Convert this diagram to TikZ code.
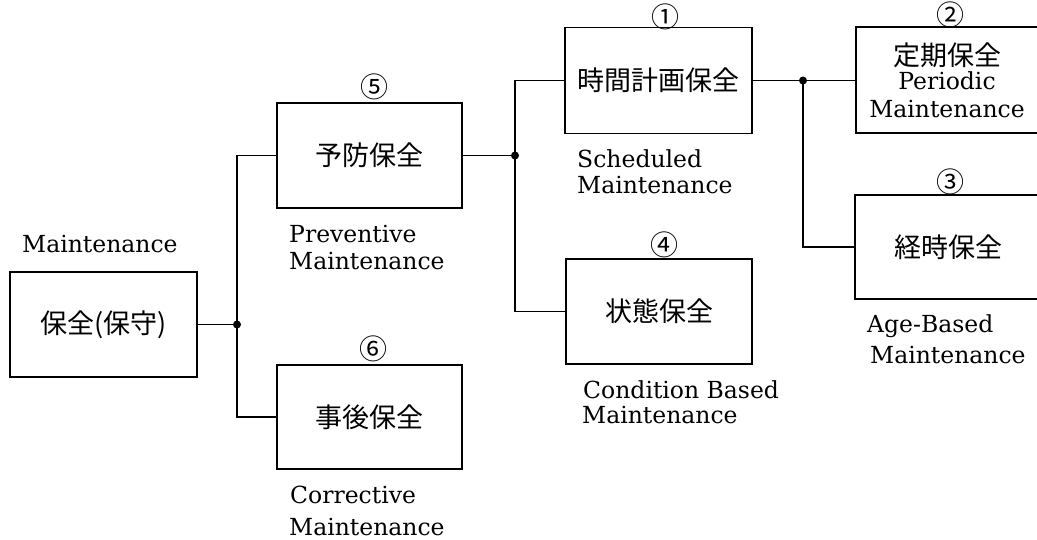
\documentclass[tikz,border=0pt]{standalone}
\usepackage{fontspec}
\newfontfamily\jp{Noto Sans CJK JP}
\newfontfamily\latn{DejaVu Serif}
\begin{document}
\begin{tikzpicture}[x=1pt,y=-1pt,
  box/.style={draw,line width=1.8pt,rectangle,inner sep=0pt,font=\jp\fontsize{27}{30}\selectfont},
  conn/.style={line width=1.4pt},
  dot/.style={circle,fill,inner sep=0pt,minimum size=8pt},
  lab/.style={anchor=base west,inner sep=0pt,font=\latn\fontsize{23.5}{28}\selectfont},
  num/.style={inner sep=0pt,font=\jp\fontsize{28}{30}\selectfont}]
\clip (0,0) rectangle (1037,540);
\fill[white] (0,0) rectangle (1037,540);
% boxes
\node[box,minimum width=187pt,minimum height=105pt] (root) at (103.5,324.5) {保全(保守)};
\node[box,minimum width=185pt,minimum height=105pt] (prev) at (369.5,155.5) {予防保全};
\node[box,minimum width=185pt,minimum height=104pt] (corr) at (369.5,417) {事後保全};
\node[box,minimum width=187pt,minimum height=106pt] (sched) at (658.5,80.5) {時間計画保全};
\node[box,minimum width=186pt,minimum height=105pt] (cond) at (659,311.5) {状態保全};
\node[box,minimum width=186pt,minimum height=106pt] (per) at (949,80) {};
\node[box,minimum width=186pt,minimum height=104pt] (age) at (948,247) {経時保全};
% text inside periodic box
\node[inner sep=0pt,font=\jp\fontsize{27}{30}\selectfont] (perjp) at (947,55) {定期保全};
\node[inner sep=0pt,anchor=base,font=\latn\fontsize{23.5}{28}\selectfont] (peren1) at (947,90) {Periodic};
\node[inner sep=0pt,anchor=base,font=\latn\fontsize{23.5}{28}\selectfont] (peren2) at (947,118) {Maintenance};
% junctions
\node[dot] (j1) at (237,324.5) {};
\node[dot] (j2) at (515,155.5) {};
\node[dot] (j3) at (803,80.5) {};
% connectors
\draw[conn] (root.east) -- (j1.center);
\draw[conn] (prev.west) -| (j1.center);
\draw[conn] (j1.center) |- (corr.west);
\draw[conn] (prev.east) -- (j2.center);
\draw[conn] (sched.west) -| (j2.center);
\draw[conn] (j2.center) |- (cond.west);
\draw[conn] (sched.east) -- (j3.center);
\draw[conn] (j3.center) -- (j3.center -| per.west);
\draw[conn] (j3.center) |- (age.west);
% circled numbers
\node[num] (n1) at (665,17) {①};
\node[num] (n2) at (950,15) {②};
\node[num] (n3) at (950,182) {③};
\node[num] (n4) at (664,245) {④};
\node[num] (n5) at (374,87) {⑤};
\node[num] (n6) at (373,349) {⑥};
% labels
\node[lab] (lroot) at (22,253) {Maintenance};
\node[lab] (lprev1) at (289,243) {Preventive};
\node[lab] (lprev2) at (289,270) {Maintenance};
\node[lab] (lsch1) at (577,168) {Scheduled};
\node[lab] (lsch2) at (577,194) {Maintenance};
\node[lab] (lcon1) at (583,398) {Condition Based};
\node[lab] (lcon2) at (582,423) {Maintenance};
\node[lab] (lage1) at (867,333) {Age-Based};
\node[lab] (lage2) at (870,363) {Maintenance};
\node[lab] (lcor1) at (290,503) {Corrective};
\node[lab] (lcor2) at (289,535) {Maintenance};
\end{tikzpicture}
\end{document}
